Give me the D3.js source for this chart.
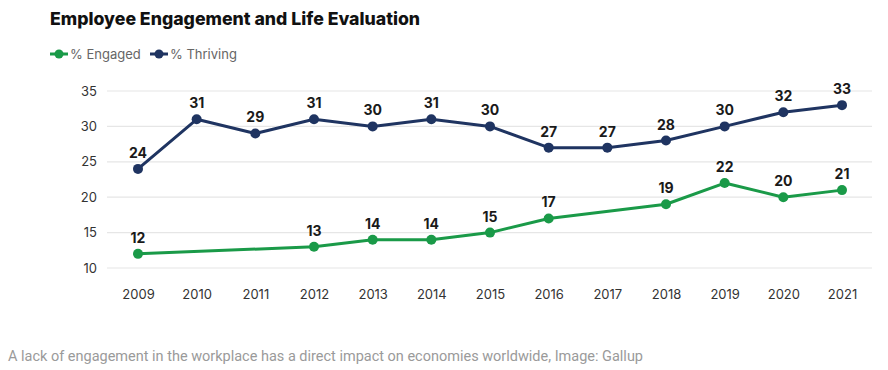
<!DOCTYPE html>
<html><head><meta charset="utf-8">
<script src="https://cdn.jsdelivr.net/npm/d3@7"></script>
<style>body{margin:0;background:#fff;}svg{display:block;}</style>
</head><body>
<svg id="c" width="888" height="370"></svg>
<script>
const years = [2009,2010,2011,2012,2013,2014,2015,2016,2017,2018,2019,2020,2021];
const thriving = [24,31,29,31,30,31,30,27,27,28,30,32,33];
const engaged = [12,null,null,13,14,14,15,17,null,19,22,20,21];
const yTicks = [10,15,20,25,30,35];
const seriesNames = ["% Engaged","% Thriving"];
const colors = ["#1a9a48","#1f3461"];

const svg = d3.select("#c");
const x = d3.scalePoint().domain(years).range([138,842]);
const y = d3.scaleLinear().domain([10,35]).range([268,91]);

// grid
svg.append("g").selectAll("line").data(yTicks).join("line")
  .attr("x1",107).attr("x2",872).attr("y1",d=>y(d)).attr("y2",d=>y(d))
  .attr("stroke","#e6e6e6").attr("stroke-width",1.2);

// y axis
const ya = svg.append("g").attr("transform","translate(97,0)")
  .call(d3.axisLeft(y).tickValues(yTicks).tickSize(0).tickPadding(0));
ya.select(".domain").remove();
ya.selectAll("text").attr("font-family","Inter, 'Noto Sans', sans-serif").attr("font-size",13).attr("fill","#333");

// x axis
const xa = svg.append("g").attr("transform","translate(0,268)")
  .call(d3.axisBottom(x).tickSize(0).tickPadding(22));
xa.select(".domain").remove();
xa.selectAll("text").attr("font-family","Inter, 'Noto Sans', sans-serif").attr("font-size",13).attr("fill","#333");

function drawSeries(vals, color){
  const pts = years.map((yr,i)=>({yr,v:vals[i]})).filter(d=>d.v!=null);
  const line = d3.line().x(d=>x(d.yr)).y(d=>y(d.v));
  svg.append("path").datum(pts).attr("d",line).attr("fill","none")
    .attr("stroke",color).attr("stroke-width",3).attr("stroke-linejoin","round");
  svg.append("g").selectAll("circle").data(pts).join("circle")
    .attr("cx",d=>x(d.yr)).attr("cy",d=>y(d.v)).attr("r",5).attr("fill",color);
  svg.append("g").selectAll("text").data(pts).join("text")
    .attr("x",d=>x(d.yr)).attr("y",d=>y(d.v)-11).attr("text-anchor","middle")
    .attr("font-family","Inter, 'Noto Sans', sans-serif").attr("font-weight","bold")
    .attr("font-size",14).attr("fill","#1a1a1a").text(d=>d.v);
}
drawSeries(thriving, colors[1]);
drawSeries(engaged, colors[0]);

// title
svg.append("text").attr("x",50).attr("y",25).attr("font-family","Inter, 'Noto Sans', sans-serif")
  .attr("font-weight","800").attr("font-size",17.7).attr("fill","#111")
  .text("Employee Engagement and Life Evaluation");

// legend
const legX = [50,150];
seriesNames.forEach((n,i)=>{
  const g = svg.append("g").attr("transform",`translate(${legX[i]},54)`);
  g.append("line").attr("x1",0).attr("x2",18).attr("y1",0).attr("y2",0).attr("stroke",colors[i]).attr("stroke-width",3);
  g.append("circle").attr("cx",9).attr("cy",0).attr("r",4.5).attr("fill",colors[i]);
  g.append("text").attr("x",20).attr("y",4.5).attr("font-family","Inter, 'Noto Sans', sans-serif")
    .attr("font-size",13).attr("fill","#666").text(n);
});

// caption
svg.append("text").attr("x",8).attr("y",361).attr("font-family","Roboto, 'Liberation Sans', sans-serif")
  .attr("font-size",14.5).attr("fill","#9a9a9a")
  .attr("textLength",635).attr("lengthAdjust","spacingAndGlyphs")
  .text("A lack of engagement in the workplace has a direct impact on economies worldwide, Image: Gallup");
</script>
</body></html>
